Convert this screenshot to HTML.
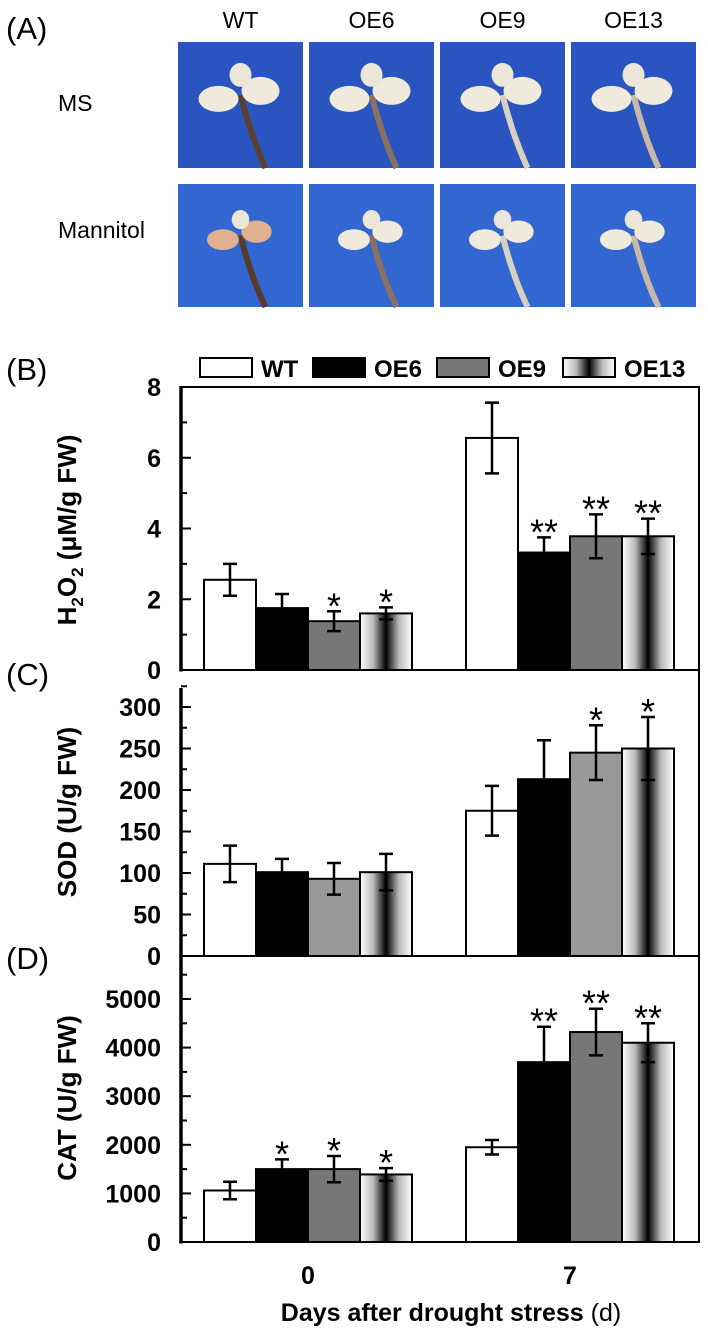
<!DOCTYPE html>
<html><head><meta charset="utf-8"><style>
html,body{margin:0;padding:0;background:#fff;}
svg{display:block;font-family:"Liberation Sans",Arial,sans-serif;}
</style></head><body>
<svg id="fig" width="708" height="1332" viewBox="0 0 708 1332" xmlns="http://www.w3.org/2000/svg">
<defs>
<linearGradient id="g13" x1="0" x2="1" y1="0" y2="0">
<stop offset="0" stop-color="#ffffff"/><stop offset="0.25" stop-color="#bbbbbb"/><stop offset="0.5" stop-color="#000000"/><stop offset="0.75" stop-color="#bbbbbb"/><stop offset="1" stop-color="#ffffff"/>
</linearGradient>
</defs>
<g id="panelA"></g>
<g id="charts"></g>
</svg>
<script>
const NS='http://www.w3.org/2000/svg';
const genotypes=['WT','OE6','OE9','OE13'];
const days=['0','7'];
const h2o2Vals=[[2.55,1.75,1.38,1.6],[6.56,3.32,3.78,3.78]];
const h2o2Err=[[0.45,0.4,0.28,0.17],[1.0,0.43,0.62,0.5]];
const h2o2Stars=[['','','*','*'],['','**','**','**']];
const h2o2Ticks=[0,2,4,6,8];
const sodVals=[[111,101,93,101],[175,213,245,250]];
const sodErr=[[22,16,19,22],[30,47,33,38]];
const sodStars=[['','','',''],['','','*','*']];
const sodTicks=[0,50,100,150,200,250,300];
const catVals=[[1060,1500,1500,1390],[1950,3700,4320,4100]];
const catErr=[[180,200,270,130],[150,730,480,400]];
const catStars=[['','*','*','*'],['','**','**','**']];
const catTicks=[0,1000,2000,3000,4000,5000];

function el(tag,attrs,parent,text){const e=document.createElementNS(NS,tag);for(const k in attrs)e.setAttribute(k,attrs[k]);if(text!==undefined)e.textContent=text;parent.appendChild(e);return e;}

const A=document.getElementById('panelA');
let t=el('text',{x:6,y:39,'font-size':31},A,'(A)');

const colX=[178,309,440,571],colW=125,rowY=[42,184],rowH=[126,123];
genotypes.forEach((g,i)=>{const h=el('text',{x:colX[i]+colW/2,y:28,'font-size':23,'text-anchor':'middle'},A,g);
});
t=el('text',{x:58,y:111,'font-size':23},A,'MS');
t=el('text',{x:58,y:238,'font-size':23},A,'Mannitol');
const stems=['#5a4030','#8a7060','#d8d0c0','#c8b8a8'];
rowY.forEach((ry,r)=>{colX.forEach((cx,i)=>{
 const g=el('g',{},A);
 el('rect',{x:cx,y:ry,width:colW,height:rowH[r],fill:r?'#3266d0':'#2a55c0'},g);
 const mx=cx+colW/2,my=ry+rowH[r]*0.42,s=r?0.8:1;
 el('path',{d:`M${mx} ${my} Q${mx+10} ${my+40} ${mx+25} ${ry+rowH[r]}`,stroke:r&&i==0?'#5a3a2a':stems[i],'stroke-width':6,fill:'none'},g);
 el('ellipse',{cx:mx-22*s,cy:my+4,rx:20*s,ry:13*s,fill:r&&i==0?'#e0b090':'#efeadc'},g);
 el('ellipse',{cx:mx+20*s,cy:my-4,rx:19*s,ry:14*s,fill:r&&i==0?'#e0b090':'#efeadc'},g);
 el('ellipse',{cx:mx,cy:my-20*s,rx:11*s,ry:12*s,fill:'#ece6d8'},g);
});});

const C=document.getElementById('charts');
const axX=181,right=699;
const groupStart=[204,466],barW=52;
const fills=['#ffffff','#000000','#777777','url(#g13)'];
function panel(cfg){
 const {top,zero,vmax,vals,err,stars,ticks,minorStep,fillC,name,title,titleY}=cfg;
 const y=v=>zero-(v/vmax)*(zero-cfg.vmaxY);
 const g=el('g',{},C);
 vals.forEach((grp,d)=>grp.forEach((v,i)=>{
  const x=groupStart[d]+i*barW;
  const b=el('rect',{x:x,y:y(v),width:barW,height:zero-y(v),fill:fillC[i],stroke:'#000','stroke-width':2},g);
  
  const cx=x+barW/2,e=err[d][i];
  const eb=el('path',{d:`M${cx} ${y(v+e)}V${y(v-e)}M${cx-7} ${y(v+e)}H${cx+7}M${cx-7} ${y(v-e)}H${cx+7}`,stroke:'#000','stroke-width':2.5,fill:'none'},g);
  
  if(stars[d][i]){const s=el('text',{x:cx,y:y(v+e)+7,'font-size':36,'text-anchor':'middle'},g,stars[d][i]);
   }
 }));
 el('path',{d:`M${axX} ${zero}H${right}V${top}`+(cfg.topLine?`H${axX}`:''),stroke:'#000','stroke-width':2,fill:'none'},g);
 const ax=el('line',{x1:axX,y1:cfg.axTop,x2:axX,y2:zero+1.5,stroke:'#000','stroke-width':3.5},g);
 
 for(let v=0;v<=cfg.minorMax;v+=minorStep){const yy=y(v);const major=ticks.includes(v);
  el('line',{x1:axX,y1:yy,x2:axX+(major?10:6),y2:yy,stroke:'#000','stroke-width':2},g);}
 ticks.forEach(v=>{const tl=el('text',{x:161,y:y(v)+9,'font-size':25,'font-weight':'bold','text-anchor':'end'},g,String(v));
  });
 const tt=el('text',{x:0,y:0,'font-size':26,'font-weight':'bold','text-anchor':'middle',transform:`translate(76 ${titleY}) rotate(-90)`},g);
 
 title.forEach(p=>{el('tspan',p.a||{},tt,p.t);});
 return g;
}
panel({name:'panel-b-h2o2',top:387,zero:670,vmax:8,vmaxY:387,vals:h2o2Vals,err:h2o2Err,stars:h2o2Stars,ticks:h2o2Ticks,minorStep:1,minorMax:8,fillC:fills,topLine:true,axTop:386,titleY:530,
 title:[{t:'H'},{t:'2',a:{'font-size':17,dy:7}},{t:'O',a:{dy:-7}},{t:'2',a:{'font-size':17,dy:7}},{t:' (μM/g FW)',a:{dy:-7}}]});
panel({name:'panel-c-sod',top:670,zero:956,vmax:300,vmaxY:707,vals:sodVals,err:sodErr,stars:sodStars,ticks:sodTicks,minorStep:25,minorMax:325,fillC:['#ffffff','#000000','#999999','url(#g13)'],topLine:false,axTop:688,titleY:812,
 title:[{t:'SOD (U/g FW)'}]});
panel({name:'panel-d-cat',top:956,zero:1242,vmax:5000,vmaxY:999,vals:catVals,err:catErr,stars:catStars,ticks:catTicks,minorStep:500,minorMax:5500,fillC:fills,topLine:false,axTop:956,titleY:1098,
 title:[{t:'CAT (U/g FW)'}]});

['(B)','(C)','(D)'].forEach((l,i)=>{const tl=el('text',{x:6,y:[380,685,969][i],'font-size':31},C,l);
 });

days.forEach((d,i)=>{const xl=el('text',{x:groupStart[i]+2*barW,y:1284,'font-size':25,'font-weight':'bold','text-anchor':'middle'},C,d);
 });
const xt=el('text',{x:451,y:1321,'font-size':25,'font-weight':'bold','text-anchor':'middle'},C);

el('tspan',{},xt,'Days after drought stress ');el('tspan',{'font-weight':'normal'},xt,'(d)');

const lg=el('g',{},C);
const legX=[200,313,437,563];
genotypes.forEach((g,i)=>{const e=el('g',{},lg);
 el('rect',{x:legX[i],y:358,width:52,height:19,fill:fills[i],stroke:'#000','stroke-width':2},e);
 el('text',{x:legX[i]+61,y:377,'font-size':24,'font-weight':'bold'},e,g);});
</script>
</body></html>
